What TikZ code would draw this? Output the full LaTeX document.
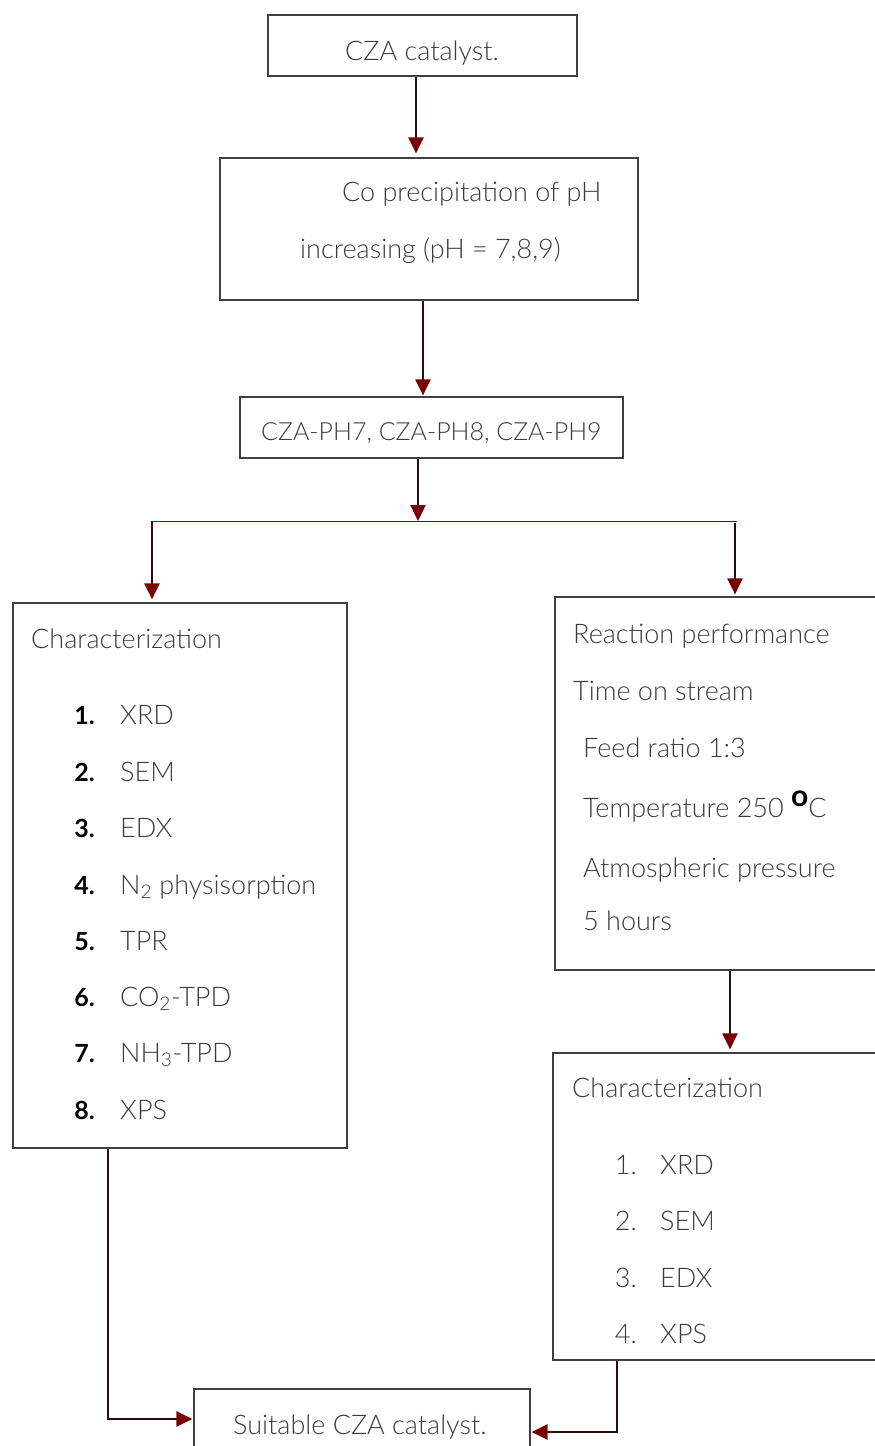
\documentclass[tikz,border=0pt]{standalone}
\usepackage{fontspec}
\setmainfont{Lato}[UprightFont=* Light, BoldFont=* Bold]
\usetikzlibrary{arrows.meta}
\definecolor{arrred}{HTML}{7A0000}
\definecolor{lin}{HTML}{2B0B0B}
\definecolor{txt}{HTML}{3C3C3C}
\begin{document}
\begin{tikzpicture}[x=1pt,y=-1pt,
 box/.style={draw=black!75, line width=1.2pt, rectangle, inner sep=0pt},
 tx/.style={anchor=base west, inner sep=0pt, text=txt, font=\fontsize{27}{30}\selectfont},
 num/.style={anchor=base east, inner sep=0pt, text=black, font=\fontsize{25}{30}\selectfont\bfseries},
 numl/.style={anchor=base east, inner sep=0pt, text=txt, font=\fontsize{27}{30}\selectfont},
 arr/.style={draw=lin, line width=2.4pt, -{Triangle[length=16pt,width=15pt,fill=arrred,color=arrred]}},
 split/.style={draw=arrred, line width=1pt},
]
\useasboundingbox (0,0) rectangle (875,1446);
\fill[white] (0,0) rectangle (875,1446);

% boxes
\node[box, minimum width=309, minimum height=61] (b1) at (422.5,45.5) {};
\node[box, minimum width=418, minimum height=142] (b2) at (429,229) {};
\node[box, minimum width=383, minimum height=61] (b3) at (431.5,427.5) {};
\node[box, minimum width=334, minimum height=545] (L) at (180,875.5) {};
\node[box, minimum width=345, minimum height=373] (R1) at (727.5,783.5) {};
\node[box, minimum width=347, minimum height=307] (R2) at (726.5,1206.5) {};
\node[box, minimum width=336, minimum height=81] (B) at (362,1429.5) {};

% texts
\node[tx] (t1) at (345,60) {CZA catalyst.};
\node[tx] (t2a) at (342,201) {Co precipitation of pH};
\node[tx] (t2b) at (300,258) {increasing (pH = 7,8,9)};
\node[tx, font=\fontsize{25}{30}\selectfont] (t3) at (261,440) {CZA-PH7, CZA-PH8, CZA-PH9};

\node[tx] (lh) at (31,648) {Characterization};
\foreach \n/\t/\y in {1/XRD/724, 2/SEM/781, 3/EDX/837, 4/N\textsubscript{2} physisorption/894, 5/TPR/950, 6/CO\textsubscript{2}-TPD/1006, 7/NH\textsubscript{3}-TPD/1062, 8/XPS/1119}{
  \node[num] (ln\n) at (95,\y) {\n.};
  \node[tx] (lt\n) at (120,\y) {\t};
}

\node[tx] (r1a) at (573,643) {Reaction performance};
\node[tx] (r1b) at (573,700) {Time on stream};
\node[tx] (r1c) at (583,757) {Feed ratio 1:3};
\node[tx] (r1d) at (583,817) {Temperature 250 \raisebox{0.75ex}{\textcolor{black}{\fontsize{30}{30}\selectfont\bfseries o}}C};
\node[tx] (r1e) at (583,877) {Atmospheric pressure};
\node[tx] (r1f) at (583,930) {5 hours};

\node[tx] (r2h) at (572,1097) {Characterization};
\foreach \n/\t/\y in {1/XRD/1174, 2/SEM/1230, 3/EDX/1287, 4/XPS/1343}{
  \node[numl] (rn\n) at (637,\y) {\n.};
  \node[tx] (rt\n) at (660,\y) {\t};
}

\node[tx] (tb) at (233,1434) {Suitable CZA catalyst.};

% connectors
\coordinate (j) at (418,521);
\coordinate (jl) at (152,521);
\coordinate (jr) at (737,521);
\draw[arr, shorten >=4pt] (b1.south -| 416,0) -- (b2.north -| 416,0);
\draw[arr, shorten >=1pt] (b2.south -| 423,0) -- (b3.north -| 423,0);
\draw[arr] (b3.south -| 418,0) -- (j);
\draw[split] (jl) -- (jr);
\draw[arr, shorten >=3pt] (jl) -- (L.north -| jl);
\draw[arr, shorten >=2pt] (735,523) -- (R1.north -| 735,0);
\draw[arr, shorten >=3pt] (R1.south -| 730,0) -- (R2.north -| 730,0);
\draw[arr, shorten >=1pt] (L.south -| 108,0) |- (B.west |- 0,1419);
\draw[arr, shorten >=1pt] (R2.south -| 617,0) |- (B.east |- 0,1432);
\end{tikzpicture}
\end{document}
